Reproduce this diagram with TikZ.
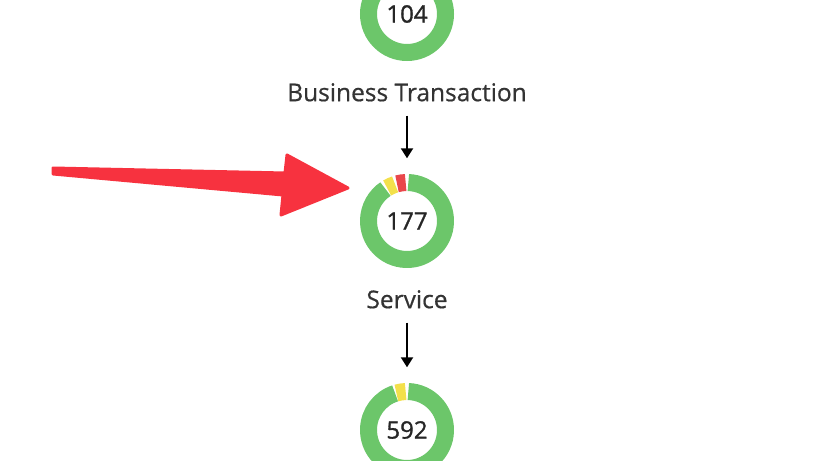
\documentclass[tikz,border=0pt]{standalone}
\usepackage{fontspec}
\setmainfont{Open Sans}
\usetikzlibrary{arrows.meta,positioning,calc}
\definecolor{okgreen}{HTML}{6CC66A}
\definecolor{warnyellow}{HTML}{F3E04B}
\definecolor{errred}{HTML}{E9474B}
\definecolor{pointred}{HTML}{F7323F}
\definecolor{labelgray}{HTML}{333333}
\tikzset{
  donut/.style={circle, minimum size=77pt, inner sep=0pt, text=black!85,
    font=\fontsize{24}{28}\selectfont\addfontfeature{FakeBold=1.2}},
  tierlabel/.style={text=labelgray, inner sep=0pt, font=\fontsize{24.5}{28}\selectfont\addfontfeature{FakeBold=0.6}},
  flow/.style={line width=2pt, -{Triangle[length=10pt,width=12pt]}, shorten <=14pt, shorten >=24pt}
}
% ring piece: node, start angle, end angle, colour
\newcommand{\ringpart}[4]{%
  \draw[#4, line width=17pt] ([shift={(#2:38.5pt)}]#1.center) arc[start angle=#2, end angle=#3, radius=38.5pt];}

\begin{document}
\begin{tikzpicture}[x=1pt, y=1pt]
    \useasboundingbox (0,0) rectangle (818,-460);

    % tiers
    \node[donut] (bt) at (407,-14) {104};
    \node[tierlabel, below=69pt of bt.center] (btlabel) {Business Transaction};
    \node[donut, below=207pt of bt.center, anchor=center] (svc) {177};
    \node[tierlabel, below=69pt of svc.center] (svclabel) {Service};
    \node[donut, below=209pt of svc.center, anchor=center] (nd) {592};

    % rings
    \ringpart{bt}{90}{-270}{okgreen}
    \ringpart{svc}{88}{-236}{okgreen}
    \ringpart{svc}{92}{105}{errred}
    \ringpart{svc}{108}{121}{warnyellow}
    \ringpart{nd}{88}{-252}{okgreen}
    \ringpart{nd}{92}{106}{warnyellow}

    % connectors
    \draw[flow] (btlabel.south) -- (svc.north);
    \draw[flow] (svclabel.south) -- (nd.north);

    % pointer
    \coordinate (tail) at (53,-171);
    \coordinate (tip) at (348,-188);
    \fill[pointred, draw=pointred, line width=3pt, line join=round]
      ($(tail)+(0,3)$) -- (285,-173) -- (287,-155) -- (tip) -- (281,-215) -- (283,-195) -- ($(tail)+(0,-3)$) -- cycle;
\end{tikzpicture}
\end{document}
